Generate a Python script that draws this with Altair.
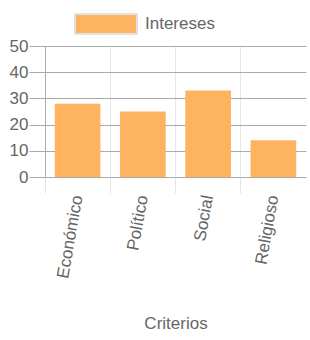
import altair as alt
import pandas as pd

categorias = ["Económico", "Político", "Social", "Religioso"]
valores = [28, 25, 33, 14]
serie = "Intereses"
color_barra = "#fdb35f"

df = pd.DataFrame({
    "Criterio": categorias,
    "Valor": valores,
    "Serie": [serie] * len(categorias),
})

FONT = "Liberation Sans"
GRAY = "#666666"

bars = alt.Chart(df).mark_bar(
    width=alt.RelativeBandSize(0.70),
).encode(
    x=alt.X(
        "Criterio:N",
        sort=categorias,
        scale=alt.Scale(paddingInner=0, paddingOuter=0),
        axis=alt.Axis(
            title="Criterios",
            bandPosition=0,
            grid=True,
            gridColor="#e6e6e6",
            tickColor="#e6e6e6",
            tickSize=16,
            domain=False,
            labelAngle=280,
            labelAlign="right",
            labelBaseline="middle",
            labelPadding=2,
            labelFont=FONT,
            labelFontSize=17,
            labelColor=GRAY,
            titleFont=FONT,
            titleFontSize=17,
            titleFontWeight="normal",
            titleColor=GRAY,
            titleY=151,
            titleBaseline="alphabetic",
        ),
    ),
    y=alt.Y(
        "Valor:Q",
        scale=alt.Scale(domain=[0, 50], nice=False),
        axis=alt.Axis(
            title=None,
            values=[0, 10, 20, 30, 40, 50],
            grid=True,
            gridColor="#aaaaaa",
            domainColor="#aaaaaa",
            tickColor="#aaaaaa",
            tickSize=16,
            labelPadding=1,
            labelFont=FONT,
            labelFontSize=17,
            labelColor=GRAY,
        ),
    ),
    color=alt.Color(
        "Serie:N",
        scale=alt.Scale(domain=[serie], range=[color_barra]),
        legend=alt.Legend(
            title=None,
            orient="none",
            legendX=29,
            legendY=-54,
            symbolType="M-1,-0.32H1V0.32H-1Z",
            symbolSize=3844,
            symbolStrokeColor="#e0e0e0",
            symbolStrokeWidth=2,
            symbolOpacity=1,
            labelFont=FONT,
            labelFontSize=17,
            labelColor=GRAY,
            labelOffset=7,
        ),
    ),
)

chart = bars.properties(
    width=261,
    height=131,
    autosize=alt.AutoSizeParams(type="none"),
    padding={"left": 45, "top": 46, "right": 4, "bottom": 163},
).configure_view(stroke=None)

chart.save("out.html", embed_options={"renderer": "svg", "actions": False})
